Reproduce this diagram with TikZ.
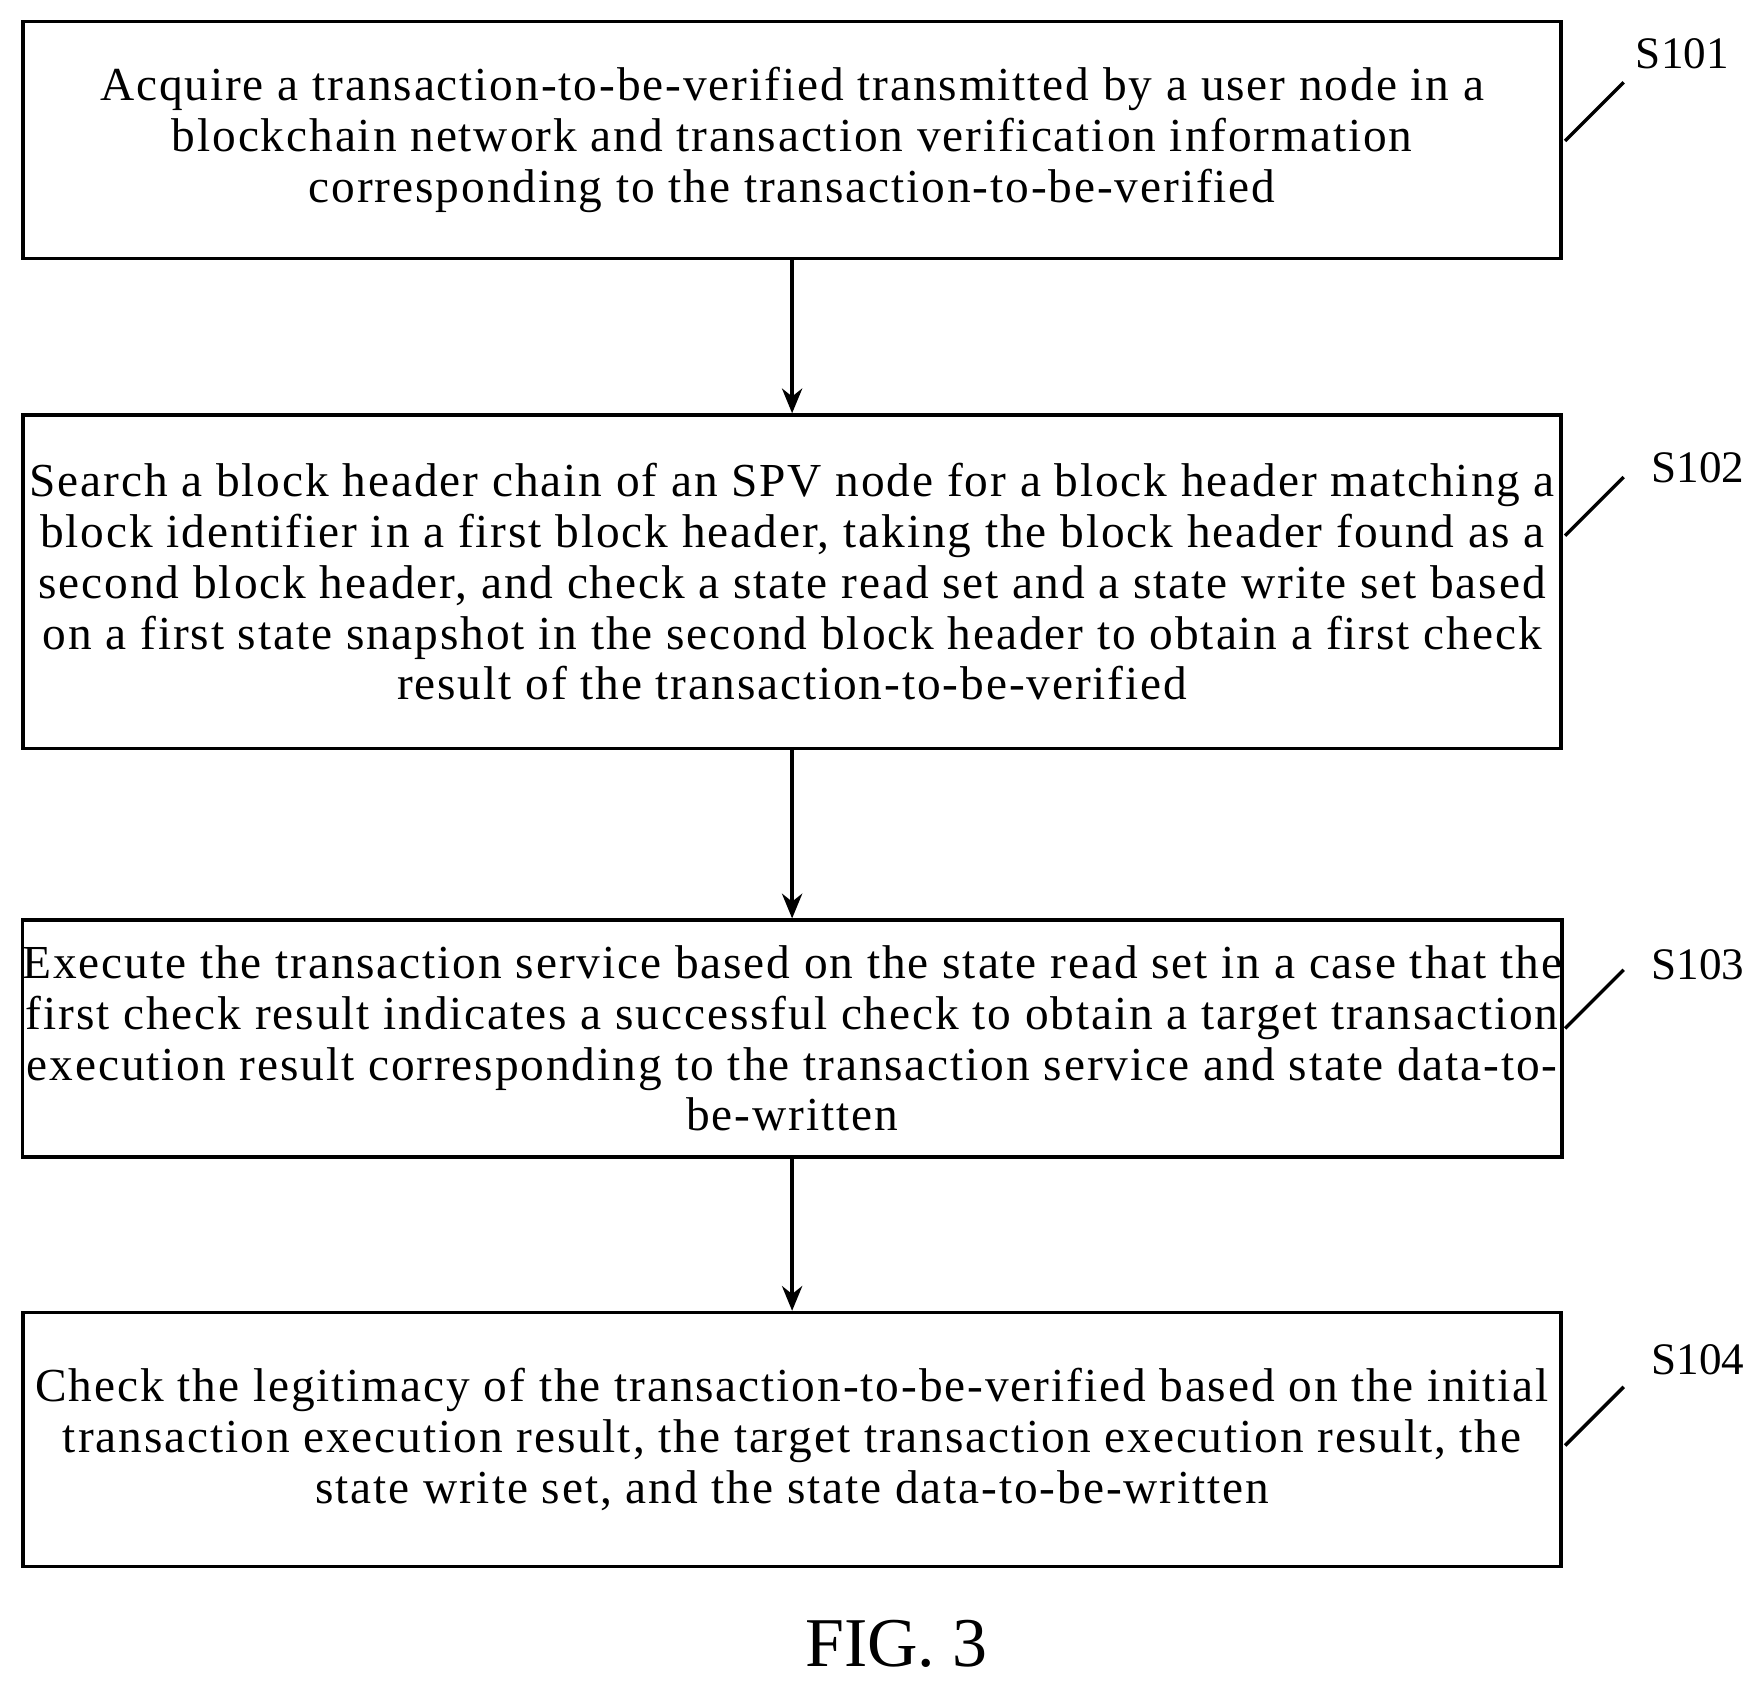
\documentclass[tikz,border=0pt]{standalone}
\usepackage{fontspec}
\usetikzlibrary{arrows.meta}
\setmainfont{Liberation Serif}
\newfontfamily\spaced[LetterSpace=4]{Liberation Serif}
\begin{document}
\begin{tikzpicture}[x=0.5pt,y=-0.5pt,
  box/.style={draw,line width=1.5pt,align=center,inner sep=0pt,font=\spaced\fontsize{21}{22.5}\selectfont},
  lbl/.style={font=\fontsize{20}{22}\selectfont},
  arr/.style={line width=1.5pt,-{Stealth[length=11pt,width=9pt]}}]
\useasboundingbox (0,0) rectangle (1560,1490);
\node[box,minimum width=682pt,minimum height=105pt] (b1) at (702.5,124) {Acquire a transaction-to-be-verified transmitted by a user node in a\\blockchain network and transaction verification information\\corresponding to the transaction-to-be-verified};
\node[box,minimum width=682pt,minimum height=148pt] (b2) at (702.5,516) {Search a block header chain of an SPV node for a block header matching a\\block identifier in a first block header, taking the block header found as a\\second block header, and check a state read set and a state write set based\\on a first state snapshot in the second block header to obtain a first check\\result of the transaction-to-be-verified};
\node[box,minimum width=682pt,minimum height=105pt] (b3) at (702.5,921) {Execute the transaction service based on the state read set in a case that the\\first check result indicates a successful check to obtain a target transaction\\execution result corresponding to the transaction service and state data-to-\\be-written};
\node[box,minimum width=682pt,minimum height=112.5pt] (b4) at (702.5,1276.5) {Check the legitimacy of the transaction-to-be-verified based on the initial\\transaction execution result, the target transaction execution result, the\\state write set, and the state data-to-be-written};
\draw[arr] (b1) -- (b2);
\draw[arr] (b2) -- (b3);
\draw[arr] (b3) -- (b4);
\node[lbl] (s1) at (1492,48) {S101};
\node[lbl] (s2) at (1506,415) {S102};
\node[lbl] (s3) at (1506,856) {S103};
\node[lbl] (s4) at (1506,1206) {S104};
\draw[line width=1.5pt] (1388,125) -- (1440,73);
\draw[line width=1.5pt] (1388,475) -- (1440,423);
\draw[line width=1.5pt] (1388,912) -- (1440,860);
\draw[line width=1.5pt] (1388,1282) -- (1440,1230);
\node[font=\fontsize{31}{36}\selectfont] (fig) at (795,1458) {FIG. 3};
\end{tikzpicture}
\end{document}
